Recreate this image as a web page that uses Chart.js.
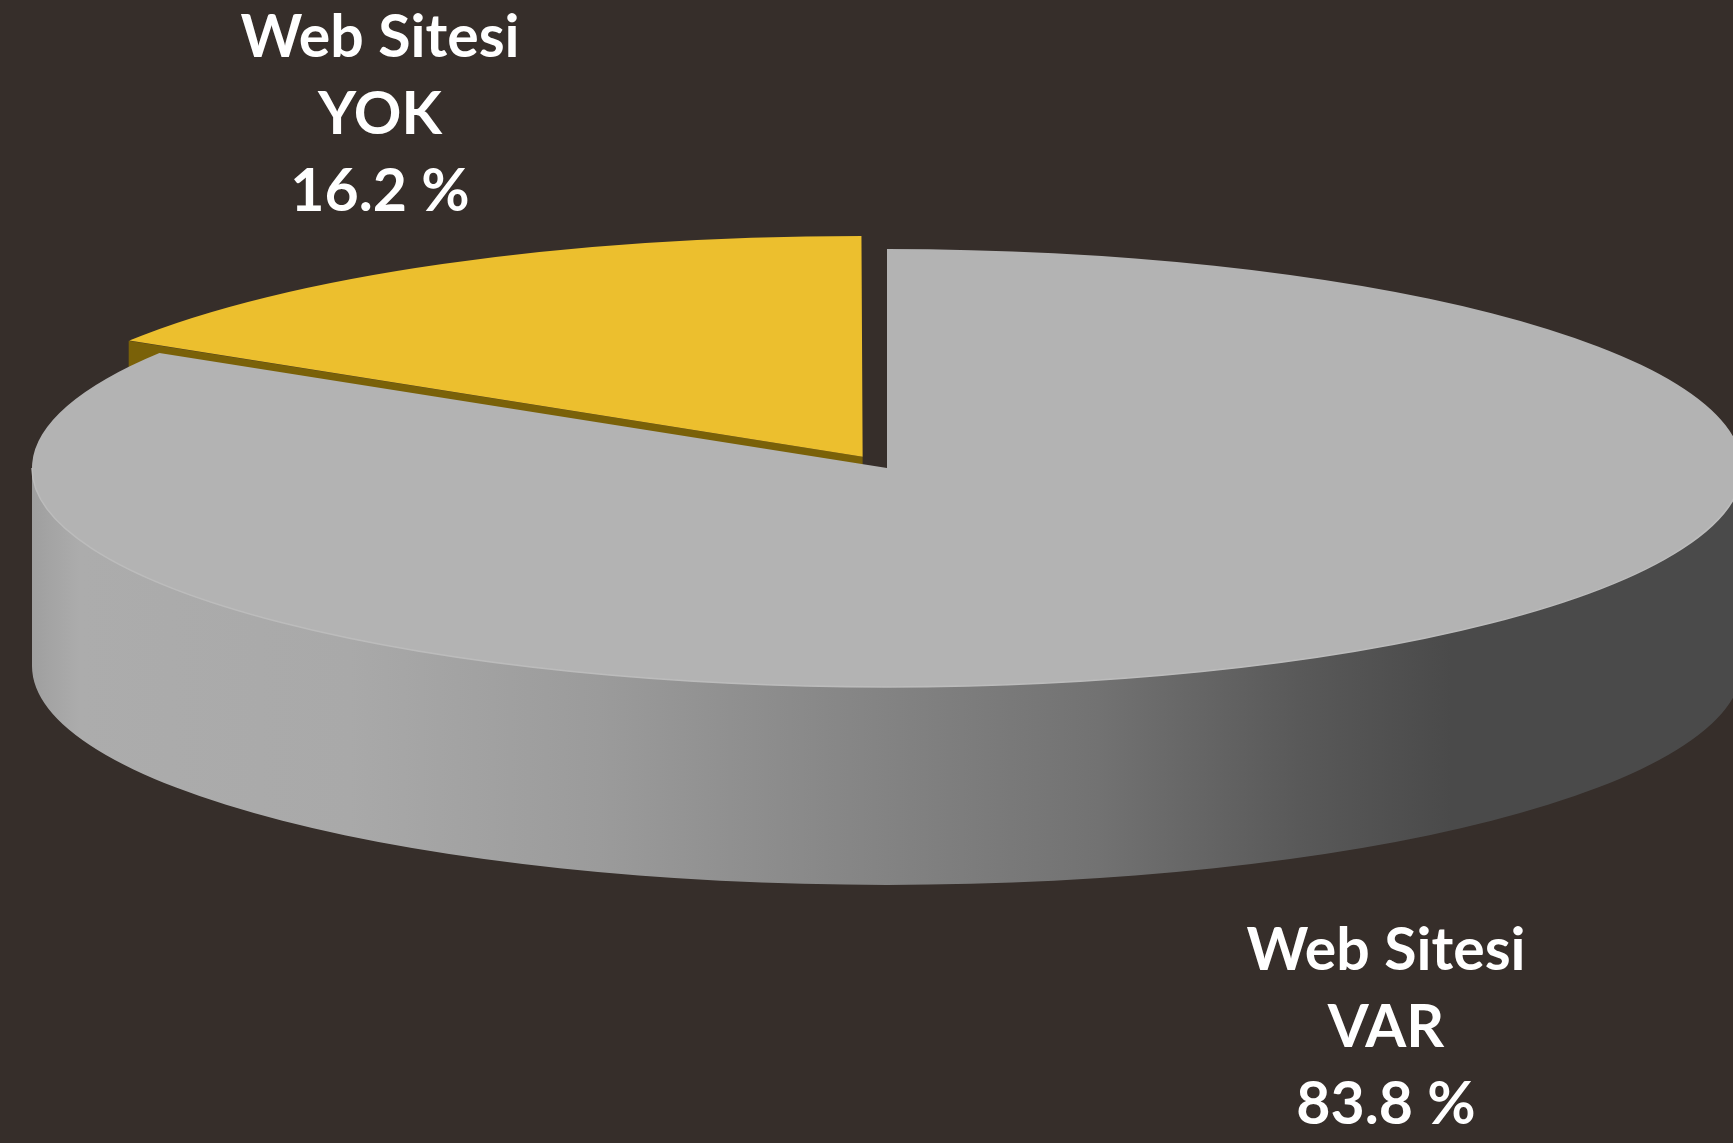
<!DOCTYPE html>
<html>
<head>
<meta charset="utf-8">
<title>Web Sitesi</title>
<script src="https://cdn.jsdelivr.net/npm/chart.js@4.4.1/dist/chart.umd.min.js"></script>
<style>
  html, body { margin: 0; padding: 0; background: #362e2a; overflow: hidden; }
  #wrap { width: 1733px; height: 1143px; }
</style>
</head>
<body>
<div id="wrap"><canvas id="myChart" width="1733" height="1143"></canvas></div>
<script>
'use strict';

let categories = ['VAR', 'YOK'];
let shares = [83.8, 16.2];
let title_line = 'Web Sitesi';

// how flat the disc looks and how thick it is
let tilt = 0.256;
let depth = 198;

// where each label block starts (first baseline)
let label_pos = [{x: 1386, y: 970}, {x: 380, y: 57}];

function explode(arc){
  // same shift ArcElement.draw applies for `offset`
  let off = (arc.options.offset || 0) / 4;
  let half = (arc.startAngle + arc.endAngle) / 2;
  let fix = 1 - Math.sin(Math.min(Math.PI, arc.circumference || 0));
  return {dx: Math.cos(half) * off, dy: Math.sin(half) * off, grow: off * fix};
}

// visible part of the outer wall: the half turned towards us
function frontRanges(arc){
  let out = [];
  [[0, Math.PI], [2 * Math.PI, 3 * Math.PI]].forEach(function(rg){
    let s = Math.max(arc.startAngle, rg[0]);
    let e = Math.min(arc.endAngle, rg[1]);
    if (e > s) out.push([s, e]);
  });
  return out;
}

let pie3d = {
  id: 'pie3d',
  beforeDatasetsDraw(chart){
    let ctx = chart.ctx;
    let meta = chart.getDatasetMeta(0);
    let ds = chart.data.datasets[0];

    ctx.save();
    for (let i = 0; i < meta.data.length; i++){
      let arc = meta.data[i];
      let e = explode(arc);
      let cx = arc.x + e.dx;
      let cy = arc.y + e.dy * tilt;
      let r = arc.outerRadius + e.grow;

      frontRanges(arc).forEach(function(rg){
        let grad = ctx.createLinearGradient(cx - r, 0, cx + r, 0);
        grad.addColorStop(0, '#9f9f9f');
        grad.addColorStop(0.028, '#acacac');
        grad.addColorStop(0.186, '#a9a9a9');
        grad.addColorStop(0.332, '#9b9b9b');
        grad.addColorStop(0.478, '#868686');
        grad.addColorStop(0.624, '#727272');
        grad.addColorStop(0.741, '#595959');
        grad.addColorStop(0.83, '#4a4a4a');
        grad.addColorStop(1, '#4a4a4a');
        ctx.fillStyle = i === 0 ? grad : ds.sideColor[i];
        ctx.beginPath();
        ctx.ellipse(cx, cy - 1, r, r * tilt, 0, rg[0], rg[1], false);
        ctx.ellipse(cx, cy + depth, r, r * tilt, 0, rg[1], rg[0], true);
        ctx.closePath();
        ctx.fill();
      });

      // cut faces of the slice that turn towards the viewer
      let faces = [];
      if (Math.cos(arc.startAngle) < -1e-6) faces.push(arc.startAngle);
      if (Math.cos(arc.endAngle) > 1e-6) faces.push(arc.endAngle);
      faces.forEach(function(a){
        let px = cx + Math.cos(a) * r;
        let py = cy + Math.sin(a) * r * tilt;
        ctx.fillStyle = ds.sideColor[i];
        ctx.beginPath();
        ctx.moveTo(cx, cy);
        ctx.lineTo(px, py);
        ctx.lineTo(px, py + depth);
        ctx.lineTo(cx, cy + depth);
        ctx.closePath();
        ctx.fill();
      });
    }
    ctx.restore();

    // squash the top faces into an ellipse
    let y0 = meta.data[0].y;
    ctx.save();
    ctx.translate(0, y0);
    ctx.scale(1, tilt);
    ctx.translate(0, -y0);
  },
  afterDatasetsDraw(chart){
    let ctx = chart.ctx;
    ctx.restore();

    // light rim along the front edge of the top face
    let meta = chart.getDatasetMeta(0);
    ctx.save();
    ctx.strokeStyle = '#bcbcbc';
    ctx.lineWidth = 1.5;
    meta.data.forEach(function(arc){
      let e = explode(arc);
      let r = arc.outerRadius + e.grow;
      frontRanges(arc).forEach(function(rg){
        ctx.beginPath();
        ctx.ellipse(arc.x + e.dx, arc.y + e.dy * tilt, r, r * tilt, 0, rg[0], rg[1], false);
        ctx.stroke();
      });
    });
    ctx.restore();
  },
  afterDraw(chart){
    let ctx = chart.ctx;
    ctx.save();
    ctx.fillStyle = '#ffffff';
    ctx.font = 'bold 59px Lato';
    ctx.textAlign = 'center';
    ctx.textBaseline = 'alphabetic';
    for (let i = 0; i < categories.length; i++){
      let lines = [title_line, categories[i], shares[i].toFixed(1) + ' %'];
      for (let j = 0; j < lines.length; j++){
        ctx.fillText(lines[j], label_pos[i].x, label_pos[i].y + j * 77);
      }
    }
    ctx.restore();
  }
};

let ctx = document.getElementById('myChart').getContext('2d');
let myChart = new Chart(ctx, {
  type: 'pie',
  data: {
    labels: categories,
    datasets: [{
      data: shares,
      backgroundColor: ['#b3b3b3', '#ecbf2e'],
      sideColor: ['#7d7d7d', '#7a6108'],
      borderWidth: 0,
      offset: [0, 200],
      radius: 855,
      clip: false
    }]
  },
  options: {
    responsive: false,
    animation: false,
    events: [],
    layout: {padding: {left: 41, right: 0, top: 0, bottom: 207}},
    plugins: {
      legend: {display: false},
      tooltip: {enabled: false}
    }
  },
  plugins: [pie3d]
});
</script>
</body>
</html>
